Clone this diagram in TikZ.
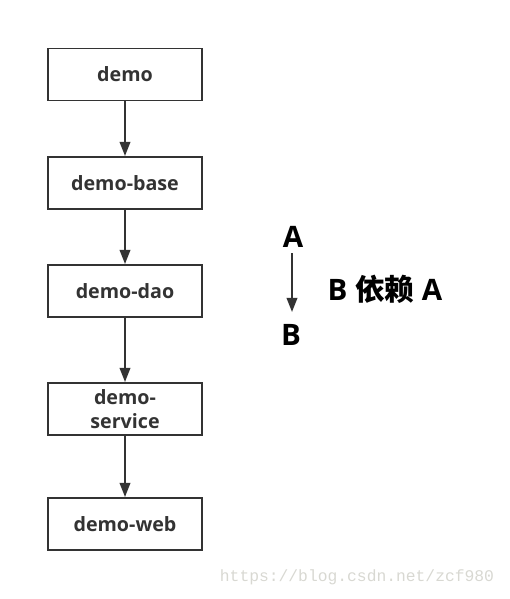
\documentclass[tikz,border=0pt]{standalone}
\usepackage{fontspec}
\setmainfont{Open Sans}
\newfontfamily\cjk{Noto Sans CJK SC}
\newfontfamily\markfont{Liberation Mono}
\usetikzlibrary{arrows.meta}
\definecolor{ink}{HTML}{333333}
\definecolor{markgray}{HTML}{D8D8D2}
\tikzset{
    modbox/.style={draw=ink, line width=1.4pt, minimum width=3.85cm, minimum height=1.3cm,
        align=center, text=ink, font=\bfseries\fontsize{14}{17}\selectfont},
    dep/.style={draw=ink, line width=1.3pt, -{Triangle[length=10pt, width=7.5pt]}},
    bigtext/.style={text=black, inner sep=0pt, font=\bfseries\fontsize{21}{25}\selectfont}
}
\begin{document}
\begin{tikzpicture}[x=0.025cm, y=-0.025cm]
        \useasboundingbox (0, 0) rectangle (509, 599);

        % Draw the modules
        \node[modbox] (demo) at (125, 74.5) {demo};
        \node[modbox] (base) at (125, 183) {demo-base};
        \node[modbox] (dao) at (125, 291) {demo-dao};
        \node[modbox] (service) at (125, 409) {demo-\\service};
        \node[modbox] (web) at (125, 524) {demo-web};

        % Draw the arrows between the modules
        \draw[dep] (demo) -- (base);
        \draw[dep] (base) -- (dao);
        \draw[dep] (dao) -- (service);
        \draw[dep] (service) -- (web);

        % Legend
        \node[bigtext] (a) at (293, 237) {A};
        \node[bigtext] (b) at (291, 335) {B};
        \draw[dep] (292, 253) -- (292, 312);
        \node[bigtext] (rule) at (385, 289) {B {\cjk 依赖} A};

        % Watermark
        \node[text=markgray, font=\markfont\fontsize{11.6}{14}\selectfont, anchor=east] (mark) at (499, 577) {https://blog.csdn.net/zcf980};
    \end{tikzpicture}
\end{document}
